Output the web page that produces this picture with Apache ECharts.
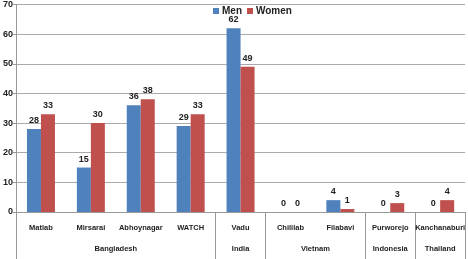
<!DOCTYPE html>
<html><head><meta charset="utf-8">
<script src="https://cdn.jsdelivr.net/npm/echarts@6/dist/echarts.min.js"></script>
<style>html,body{margin:0;padding:0;background:#fff}#c{width:468px;height:259px}</style>
</head><body><div id="c"></div>
<script>
const categories = ['Matlab','Mirsarai','Abhoynagar','WATCH','Vadu','Chililab','Filabavi','Purworejo','Kanchanaburi'];
const men = [28,15,36,29,62,0,4,0,0];
const women = [33,30,38,33,49,0,1,3,4];
const groups = ['Bangladesh','India','Vietnam','Indonesia','Thailand'];
const groupSizes = [4,1,2,1,1];
const yTicks = [0,10,20,30,40,50,60,70];

// derive group boundaries & centers (in category units)
const groupBounds = [0];
groupSizes.forEach(s => groupBounds.push(groupBounds[groupBounds.length-1] + s));
const groupCenters = groupSizes.map((s,i) => groupBounds[i] + s/2);

const font = 'Liberation Sans, Arial, sans-serif';
const chart = echarts.init(document.getElementById('c'));
chart.setOption({
  animation: false,
  legend: {
    data: ['Men','Women'], left: 208, top: 1, itemWidth: 6, itemHeight: 6, itemGap: 5,
    icon: 'rect',
    textStyle: {fontFamily: font, fontSize: 10, fontWeight: 'bold', color: '#222', padding: [0,0,0,-2]}
  },
  grid: {left: 15, right: 1, top: 3, bottom: 47, containLabel: false},
  xAxis: [{
    type: 'category', data: categories, position: 'bottom',
    axisLine: {lineStyle: {color: '#999', width: 1}},
    axisTick: {length: 23, lineStyle: {color: '#999'}},
    axisLabel: {fontFamily: font, fontSize: 7.5, fontWeight: 'bold', color: '#222', margin: 12, interval: 0}
  },{
    type: 'value', min: 0, max: categories.length, position: 'bottom',
    axisLine: {show: false}, splitLine: {show: false},
    axisTick: {show: true, length: 47, customValues: groupBounds, lineStyle: {color: '#999'}},
    axisLabel: {customValues: groupCenters, margin: 33, fontFamily: font, fontSize: 7.5, fontWeight: 'bold', color: '#222',
      formatter: v => { const i = groupCenters.indexOf(v); return i >= 0 ? groups[i] : ''; }}
  }],
  yAxis: {
    type: 'value', min: yTicks[0], max: yTicks[yTicks.length-1], interval: 10,
    axisLine: {show: true, lineStyle: {color: '#999'}},
    axisTick: {show: true, length: 3, lineStyle: {color: '#999'}},
    axisLabel: {fontFamily: font, fontSize: 9, fontWeight: 'bold', color: '#222', margin: 3},
    splitLine: {lineStyle: {color: '#aaa', width: 1}}
  },
  series: [{
    name: 'Men', type: 'bar', data: men, barWidth: 14, barGap: '0%',
    itemStyle: {color: '#4F81BD'},
    label: {show: true, position: 'top', distance: 4, fontFamily: font, fontSize: 9, fontWeight: 'bold', color: '#222'}
  },{
    name: 'Women', type: 'bar', data: women, barWidth: 14, barGap: '0%',
    itemStyle: {color: '#C0504D'},
    label: {show: true, position: 'top', distance: 4, fontFamily: font, fontSize: 9, fontWeight: 'bold', color: '#222'}
  }]
});
</script></body></html>
